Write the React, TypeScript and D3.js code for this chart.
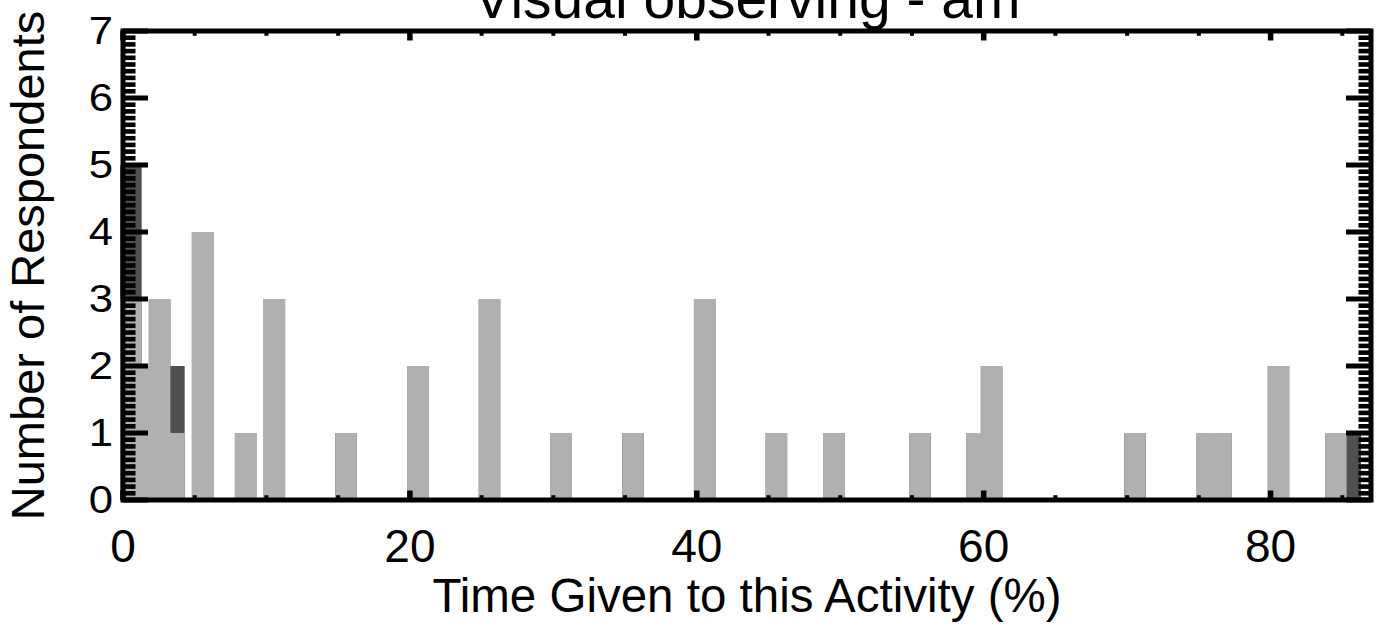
import React from 'react';
import * as d3 from 'd3';

// Histogram of responses: "% of time given to this activity"
const responseValues = [0, 1, 2, 3, 5, 8, 10, 15, 20, 25, 30, 35, 40, 45, 49, 55, 59, 60, 70, 75, 76, 80, 84, 85];
// total respondents per value (dark gray, drawn first)
const totalCounts = [5, 2, 3, 2, 4, 1, 3, 1, 2, 3, 1, 1, 3, 1, 1, 1, 1, 2, 1, 1, 1, 2, 1, 1];
// subset overplotted in light gray
const subsetCounts = [3, 2, 3, 1, 4, 1, 3, 1, 2, 3, 1, 1, 3, 1, 1, 1, 1, 2, 1, 1, 1, 2, 1, 0];

const xTickValues = [0, 20, 40, 60, 80];
const yTickValues = [0, 1, 2, 3, 4, 5, 6, 7];

const TITLE = 'Visual observing - am';
const X_LABEL = 'Time Given to this Activity (%)';
const Y_LABEL = 'Number of Respondents';

const WIDTH = 1377;
const HEIGHT = 627;
const FONT = '"Liberation Sans", Arial, Helvetica, sans-serif';

const BIN_WIDTH = 1.5;
const BIN_OFFSET = -0.2;

export default function App() {
  const left = 123;
  const right = 1371;
  const top = 31;
  const bottom = 500;

  const x = d3.scaleLinear().domain([0, 87]).range([left, right]);
  const y = d3.scaleLinear().domain([0, 7]).range([bottom, top]);

  const barW = x(BIN_WIDTH) - x(0);

  // IDL-style tick lengths (fraction of plot size)
  const yMajorLen = 25;
  const yMinorLen = 12.5;
  const xMajorLen = 9.5;
  const xMinorLen = 4.8;

  const yMinor = d3.range(0, 70).map(i => i / 10).filter(v => Math.abs(v - Math.round(v)) > 1e-6);
  const xMinor = d3.range(0, 87, 5).filter(v => v % 20 !== 0);

  return (
    <svg
      width={WIDTH}
      height={HEIGHT}
      viewBox={`0 0 ${WIDTH} ${HEIGHT}`}
      style={{ position: 'absolute', left: 0, top: 0, background: '#fff' }}
      fontFamily={FONT}
    >
      {/* title, partly cut by the top edge */}
      <text x={(left + right) / 2} y={18} textAnchor="middle" fontSize={57} fill="#000">
        {TITLE}
      </text>

      {/* total counts (dark) */}
      {responseValues.map((v, i) => (
        <rect
          key={`t-${v}`}
          x={x(v + BIN_OFFSET)}
          y={y(totalCounts[i])}
          width={barW}
          height={y(0) - y(totalCounts[i])}
          fill="#505050"
        />
      ))}
      {/* subset counts (light) */}
      {responseValues.map((v, i) =>
        subsetCounts[i] > 0 ? (
          <rect
            key={`s-${v}`}
            x={x(v + BIN_OFFSET)}
            y={y(subsetCounts[i])}
            width={barW}
            height={y(0) - y(subsetCounts[i])}
            fill="#b0b0b0"
          />
        ) : null
      )}

      {/* y ticks, left and right */}
      <g stroke="#000">
        {yMinor.map(v => (
          <g key={`ym-${v}`} strokeWidth={4.6}>
            <line x1={left} x2={left + yMinorLen} y1={y(v)} y2={y(v)} />
            <line x1={right} x2={right - yMinorLen} y1={y(v)} y2={y(v)} />
          </g>
        ))}
        {yTickValues.map(v => (
          <g key={`yM-${v}`} strokeWidth={5}>
            <line x1={left} x2={left + yMajorLen} y1={y(v)} y2={y(v)} />
            <line x1={right} x2={right - yMajorLen} y1={y(v)} y2={y(v)} />
          </g>
        ))}
        {xMinor.map(v => (
          <g key={`xm-${v}`} strokeWidth={4}>
            <line x1={x(v)} x2={x(v)} y1={bottom} y2={bottom - xMinorLen} />
            <line x1={x(v)} x2={x(v)} y1={top} y2={top + xMinorLen} />
          </g>
        ))}
        {xTickValues.map(v => (
          <g key={`xM-${v}`} strokeWidth={5.5}>
            <line x1={x(v)} x2={x(v)} y1={bottom} y2={bottom - xMajorLen} />
            <line x1={x(v)} x2={x(v)} y1={top} y2={top + xMajorLen} />
          </g>
        ))}
      </g>

      {/* axis box */}
      <rect
        x={left}
        y={top}
        width={right - left}
        height={bottom - top}
        fill="none"
        stroke="#000"
        strokeWidth={5}
      />

      {/* x tick labels */}
      {xTickValues.map(v => (
        <text key={`xl-${v}`} x={x(v)} y={562} textAnchor="middle" fontSize={46} fill="#000">
          {v}
        </text>
      ))}

      {/* y tick labels */}
      {yTickValues.map(v => (
        <text
          key={`yl-${v}`}
          transform={`translate(113, ${y(v) + 13}) scale(1.15, 1)`}
          textAnchor="end"
          fontSize={38}
          fill="#000"
        >
          {v}
        </text>
      ))}

      {/* axis titles */}
      <text x={(left + right) / 2} y={612} textAnchor="middle" fontSize={47.5} fill="#000">
        {X_LABEL}
      </text>
      <text
        transform={`translate(44, ${(top + bottom) / 2}) rotate(-90)`}
        textAnchor="middle"
        fontSize={47}
        fill="#000"
      >
        {Y_LABEL}
      </text>
    </svg>
  );
}
